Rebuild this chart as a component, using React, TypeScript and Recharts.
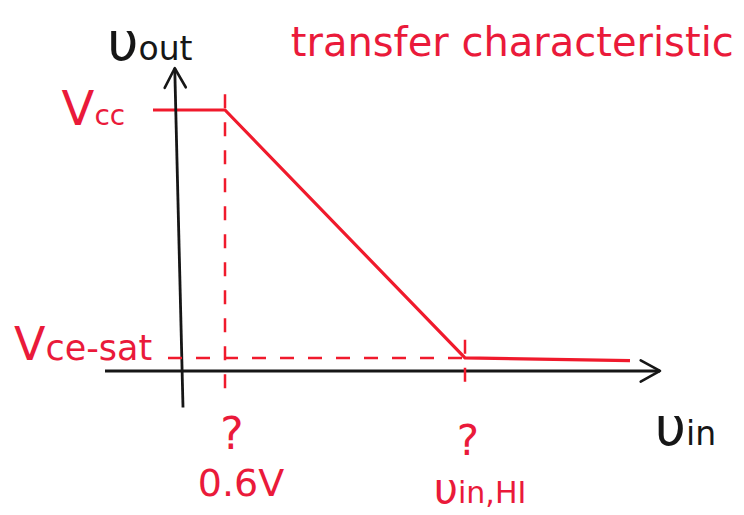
import { ComposedChart, Area, XAxis, YAxis, ReferenceLine, ReferenceDot } from "recharts";

// transfer characteristic of the BJT inverter (vin -> vout)
const vinValues = [-0.36, 0.6, 3.8, 6.0];
const voutValues = [5.0, 5.0, 0.25, 0.2];

const VCC = 5.0;
const VCE_SAT = 0.25;
const VIN_ON = 0.6;
const VIN_HI = 3.8;

const titleText = "transfer characteristic";
const vccLabel = ["V", "cc"];
const vceSatLabel = ["V", "ce-sat"];
const vinOnLabel = "0.6V";
const vinHiLabel = ["υ", "in,HI"];
const xAxisName = ["υ", "in"];
const yAxisName = ["υ", "out"];

const curveData = vinValues.map((v, i) => ({ vin: v, vout: voutValues[i] }));

const RED = "#f01a2c";
const TEXT_RED = "#ea1a3a";
const INK = "#161616";
const FONT = "DejaVu Sans";

type Part = { text: string; size: number };

const textShape =
  (parts: Part[], color: string, anchor: "start" | "middle" | "end", dx = 0, dy = 0) =>
  (props: any) => (
    <text
      x={props.cx + dx}
      y={props.cy + dy}
      textAnchor={anchor}
      fill={color}
      fontFamily={FONT}
    >
      {parts.map((p, i) => (
        <tspan key={i} fontSize={p.size}>
          {p.text}
        </tspan>
      ))}
    </text>
  );

const arrowLine = (props: any) => {
  const { x1, y1, x2, y2 } = props;
  const ang = Math.atan2(y2 - y1, x2 - x1);
  const len = 22;
  const spread = 0.5;
  const ax = x2 - len * Math.cos(ang - spread);
  const ay = y2 - len * Math.sin(ang - spread);
  const bx = x2 - len * Math.cos(ang + spread);
  const by = y2 - len * Math.sin(ang + spread);
  return (
    <g>
      <line x1={x1} y1={y1} x2={x2} y2={y2} stroke={INK} strokeWidth={2.8} />
      <polyline
        points={`${ax},${ay} ${x2},${y2} ${bx},${by}`}
        fill="none"
        stroke={INK}
        strokeWidth={2.6}
        strokeLinecap="round"
        strokeLinejoin="round"
      />
    </g>
  );
};

const dashed = { stroke: RED, strokeWidth: 2.5, strokeDasharray: "14 14" };

export default function App() {
  return (
    <div style={{ position: "absolute", left: 0, top: 0, width: 744, height: 515, background: "#fff" }}>
      <ComposedChart width={744} height={515} margin={{ top: 0, right: 0, bottom: 0, left: 0 }}>
        <XAxis dataKey="vin" type="number" domain={[-2.4, 7.52]} allowDataOverflow hide />
        <YAxis type="number" domain={[-2.759, 7.107]} allowDataOverflow hide />

        {/* axes */}
        <ReferenceLine segment={[{ x: -1, y: 0 }, { x: 6.4, y: 0 }]} shape={arrowLine} />
        <ReferenceLine segment={[{ x: 0.04, y: -0.7 }, { x: -0.07, y: 5.8 }]} shape={arrowLine} />

        {/* guide lines */}
        <ReferenceLine segment={[{ x: VIN_ON, y: 5.3 }, { x: VIN_ON, y: -0.4 }]} {...dashed} />
        <ReferenceLine segment={[{ x: -0.16, y: VCE_SAT }, { x: VIN_HI, y: VCE_SAT }]} {...dashed} />
        <ReferenceLine segment={[{ x: VIN_HI, y: 0.6 }, { x: VIN_HI, y: -0.4 }]} {...dashed} />

        {/* the characteristic itself: stroke only, no fill */}
        <Area
          data={curveData}
          dataKey="vout"
          type="linear"
          stroke={RED}
          strokeWidth={3.2}
          fill="none"
          fillOpacity={0}
          dot={false}
          activeDot={false}
          isAnimationActive={false}
        />

        {/* labels */}
        <ReferenceDot x={4.43} y={6.03} shape={textShape([{ text: titleText, size: 40 }], TEXT_RED, "middle")} />
        <ReferenceDot
          x={-0.97}
          y={5.96}
          shape={textShape([{ text: yAxisName[0], size: 54 }, { text: yAxisName[1], size: 33 }], INK, "start")}
        />
        <ReferenceDot
          x={6.33}
          y={-1.42}
          shape={textShape([{ text: xAxisName[0], size: 54 }, { text: xAxisName[1], size: 33 }], INK, "start")}
        />
        <ReferenceDot
          x={-0.73}
          y={VCC}
          shape={textShape([{ text: vccLabel[0], size: 48 }, { text: vccLabel[1], size: 28 }], TEXT_RED, "end", 0, 15)}
        />
        <ReferenceDot
          x={-0.37}
          y={VCE_SAT}
          shape={textShape([{ text: vceSatLabel[0], size: 46 }, { text: vceSatLabel[1], size: 35 }], TEXT_RED, "end", 0, 2)}
        />
        <ReferenceDot x={VIN_ON} y={0} shape={textShape([{ text: "?", size: 44 }], TEXT_RED, "middle", 7, 78)} />
        <ReferenceDot x={VIN_ON} y={0} shape={textShape([{ text: vinOnLabel, size: 38 }], TEXT_RED, "middle", 16, 125)} />
        <ReferenceDot x={VIN_HI} y={0} shape={textShape([{ text: "?", size: 42 }], TEXT_RED, "middle", 3, 84)} />
        <ReferenceDot
          x={VIN_HI}
          y={0}
          shape={textShape([{ text: vinHiLabel[0], size: 42 }, { text: vinHiLabel[1], size: 30 }], TEXT_RED, "middle", 15, 132)}
        />
      </ComposedChart>
    </div>
  );
}
